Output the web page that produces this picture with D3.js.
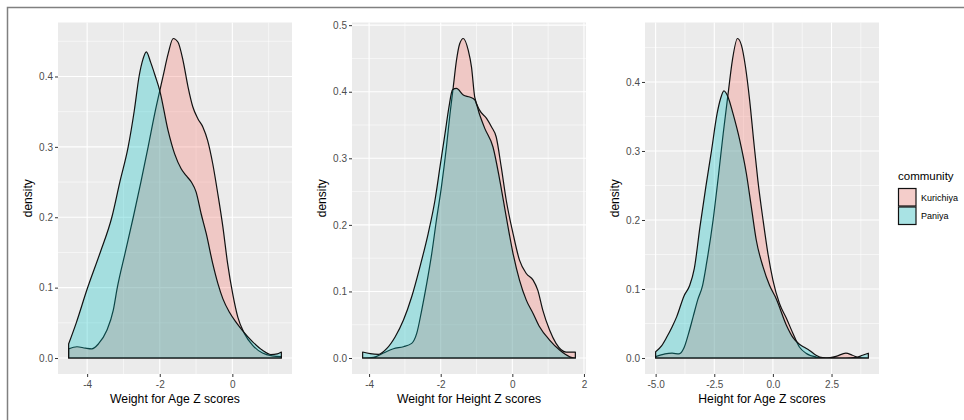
<!DOCTYPE html>
<html>
<head>
<meta charset="utf-8">
<script src="https://cdn.jsdelivr.net/npm/d3@7"></script>
<style>
  body { margin: 0; background: #fff; }
  text { font-family: "Liberation Sans", Arial, sans-serif; }
</style>
</head>
<body>
<div id="chart"></div>
<script>
// community order: Kurichiya drawn first, Paniya on top
var communities = ["Kurichiya", "Paniya"];
var fillColours = ["#F8766D", "#00BFC4"];

// Weight for Age Z scores -> [z, density]
var wazKurichiya = [[-4.51,0.013],[-4.28,0.016],[-4.05,0.014],[-3.87,0.013],[-3.69,0.020],[-3.46,0.039],[-3.28,0.068],[-3.17,0.100],[-2.96,0.148],[-2.73,0.200],[-2.52,0.250],[-2.32,0.300],[-2.14,0.347],[-1.91,0.400],[-1.77,0.432],[-1.63,0.454],[-1.50,0.449],[-1.36,0.423],[-1.22,0.385],[-1.09,0.357],[-0.95,0.340],[-0.81,0.328],[-0.68,0.309],[-0.54,0.276],[-0.40,0.233],[-0.26,0.186],[-0.13,0.134],[0.01,0.091],[0.15,0.058],[0.33,0.035],[0.56,0.018],[0.83,0.007],[1.10,0.003],[1.35,0.002]];
var wazPaniya = [[-4.51,0.020],[-4.30,0.050],[-4.00,0.098],[-3.64,0.150],[-3.32,0.200],[-3.10,0.250],[-2.87,0.300],[-2.70,0.352],[-2.57,0.400],[-2.46,0.425],[-2.37,0.435],[-2.25,0.420],[-2.12,0.400],[-2.00,0.380],[-1.77,0.323],[-1.59,0.290],[-1.41,0.269],[-1.27,0.259],[-1.13,0.250],[-1.00,0.236],[-0.86,0.205],[-0.72,0.177],[-0.54,0.134],[-0.40,0.106],[-0.26,0.084],[-0.08,0.065],[0.10,0.051],[0.28,0.039],[0.56,0.023],[0.83,0.011],[1.06,0.005],[1.24,0.006],[1.35,0.0085]];

// Weight for Height Z scores
var whzKurichiya = [[-4.18,0.0],[-3.88,0.001],[-3.60,0.0075],[-3.32,0.014],[-3.04,0.017],[-2.81,0.022],[-2.67,0.037],[-2.53,0.072],[-2.39,0.112],[-2.25,0.157],[-2.12,0.207],[-1.98,0.257],[-1.84,0.317],[-1.74,0.367],[-1.65,0.407],[-1.56,0.447],[-1.47,0.472],[-1.37,0.480],[-1.23,0.462],[-1.14,0.437],[-1.05,0.392],[-0.91,0.372],[-0.72,0.360],[-0.58,0.347],[-0.45,0.332],[-0.31,0.287],[-0.17,0.237],[0.02,0.187],[0.20,0.147],[0.39,0.127],[0.58,0.117],[0.71,0.102],[0.85,0.072],[1.04,0.042],[1.22,0.022],[1.50,0.009],[1.76,0.009]];
var whzPaniya = [[-4.18,0.009],[-3.97,0.0065],[-3.74,0.0055],[-3.51,0.014],[-3.27,0.032],[-3.04,0.057],[-2.81,0.092],[-2.58,0.137],[-2.35,0.187],[-2.16,0.237],[-2.02,0.287],[-1.88,0.337],[-1.77,0.377],[-1.67,0.403],[-1.56,0.405],[-1.37,0.395],[-1.19,0.392],[-1.05,0.388],[-0.91,0.365],[-0.77,0.345],[-0.54,0.317],[-0.35,0.267],[-0.17,0.212],[0.02,0.157],[0.20,0.117],[0.39,0.087],[0.58,0.067],[0.76,0.047],[1.04,0.027],[1.32,0.012],[1.60,0.002],[1.76,0.0]];

// Height for Age Z scores
var hazKurichiya = [[-5.0,0.002],[-4.6,0.006],[-4.3,0.007],[-4.0,0.006],[-3.8,0.014],[-3.6,0.035],[-3.4,0.060],[-3.2,0.085],[-3.0,0.105],[-2.83,0.137],[-2.55,0.200],[-2.33,0.262],[-2.12,0.325],[-1.91,0.383],[-1.73,0.431],[-1.51,0.463],[-1.34,0.453],[-1.17,0.422],[-0.99,0.373],[-0.82,0.315],[-0.64,0.257],[-0.42,0.200],[-0.21,0.151],[0.0,0.113],[0.28,0.079],[0.57,0.058],[0.85,0.036],[1.13,0.016],[1.41,0.007],[1.84,0.0015],[2.26,0.0],[2.69,0.0024],[3.11,0.0072],[3.39,0.004],[3.68,0.0005],[4.07,0.0]];
var hazPaniya = [[-5.0,0.009],[-4.74,0.018],[-4.53,0.030],[-4.30,0.045],[-4.10,0.060],[-3.79,0.090],[-3.55,0.105],[-3.35,0.130],[-3.11,0.190],[-2.86,0.248],[-2.62,0.300],[-2.38,0.354],[-2.23,0.376],[-2.09,0.387],[-1.91,0.378],[-1.70,0.354],[-1.41,0.315],[-1.13,0.267],[-0.92,0.219],[-0.71,0.171],[-0.42,0.132],[-0.14,0.105],[0.14,0.086],[0.57,0.048],[0.85,0.030],[1.13,0.020],[1.34,0.0155],[1.56,0.011],[1.84,0.004],[2.12,0.0005],[2.55,0.0],[3.10,0.0],[3.54,0.0008],[3.82,0.004],[4.07,0.007]];

// tick labels
var wazXTicks = [-4, -2, 0];
var whzXTicks = [-4, -2, 0, 2];
var hazXTicks = [-5, -2.5, 0, 2.5];
var wazYTicks = [0, 0.1, 0.2, 0.3, 0.4];
var whzYTicks = [0, 0.1, 0.2, 0.3, 0.4, 0.5];
var hazYTicks = [0, 0.1, 0.2, 0.3, 0.4];
var xTitles = ["Weight for Age Z scores", "Weight for Height Z scores", "Height for Age Z scores"];
var legendTitle = "community";

var W = 964, H = 420;
var panelTop = 22.5, panelBottom = 374, panelWidth = 234;
var panelLefts = [58, 352, 645];
var fillAlpha = 0.3;

var svg = d3.select("#chart")
    .append("svg")
    .attr("width", W)
    .attr("height", H)
    .style("display", "block");

svg.append("rect").attr("width", W).attr("height", H).attr("fill", "#fff");

// thin frame at top and left, like the cropped figure
svg.append("path")
    .attr("d", "M7.5," + H + "V7.5H" + W)
    .attr("fill", "none")
    .attr("stroke", "#808080")
    .attr("stroke-width", 1.5);

// minor gridlines halfway between majors (ggplot style)
function minorBreaks(ticks, domain) {
    var step = ticks[1] - ticks[0];
    var out = [];
    for (var i = -1; i < ticks.length; i++) {
        var v = ticks[0] + (i + 0.5) * step;
        if (v > domain[0] && v < domain[1]) out.push(v);
    }
    return out;
}

function drawPanel(idx, series, xTicks, yTicks, xFmt) {
    var left = panelLefts[idx];
    var h = panelBottom - panelTop;
    var g = svg.append("g").attr("transform", "translate(" + left + "," + panelTop + ")");

    var allX = [], maxY = 0;
    series.forEach(function (s) {
        s.forEach(function (p) { allX.push(p[0]); if (p[1] > maxY) maxY = p[1]; });
    });
    var ext = d3.extent(allX);
    var padX = (ext[1] - ext[0]) * 0.05;
    var x = d3.scaleLinear().domain([ext[0] - padX, ext[1] + padX]).range([0, panelWidth]);
    var y = d3.scaleLinear().domain([-maxY * 0.05, maxY * 1.05]).range([h, 0]);

    g.append("rect").attr("width", panelWidth).attr("height", h).attr("fill", "#EBEBEB");

    // grid
    g.selectAll(".xminor").data(minorBreaks(xTicks, x.domain())).enter().append("line")
        .attr("x1", function (d) { return x(d); }).attr("x2", function (d) { return x(d); })
        .attr("y1", 0).attr("y2", h).attr("stroke", "#fff").attr("stroke-width", 0.55);
    g.selectAll(".yminor").data(minorBreaks(yTicks, y.domain())).enter().append("line")
        .attr("y1", function (d) { return y(d); }).attr("y2", function (d) { return y(d); })
        .attr("x1", 0).attr("x2", panelWidth).attr("stroke", "#fff").attr("stroke-width", 0.55);
    g.selectAll(".xmajor").data(xTicks).enter().append("line")
        .attr("x1", function (d) { return x(d); }).attr("x2", function (d) { return x(d); })
        .attr("y1", 0).attr("y2", h).attr("stroke", "#fff").attr("stroke-width", 1.1);
    g.selectAll(".ymajor").data(yTicks).enter().append("line")
        .attr("y1", function (d) { return y(d); }).attr("y2", function (d) { return y(d); })
        .attr("x1", 0).attr("x2", panelWidth).attr("stroke", "#fff").attr("stroke-width", 1.1);

    var area = d3.area()
        .x(function (d) { return x(d[0]); })
        .y0(y(0))
        .y1(function (d) { return y(d[1]); })
        .curve(d3.curveMonotoneX);

    series.forEach(function (s, i) {
        g.append("path")
            .datum(s)
            .attr("d", area)
            .attr("fill", fillColours[i])
            .attr("fill-opacity", fillAlpha)
            .attr("stroke", "#111")
            .attr("stroke-width", 1.2)
            .attr("stroke-linejoin", "round");
    });

    // axes
    var xAxis = g.append("g")
        .attr("transform", "translate(0," + h + ")")
        .call(d3.axisBottom(x).tickValues(xTicks).tickSize(3).tickPadding(4).tickFormat(xFmt));
    var yAxis = g.append("g")
        .call(d3.axisLeft(y).tickValues(yTicks).tickSize(3).tickPadding(2).tickFormat(function (d) { return d.toFixed(1); }));
    [xAxis, yAxis].forEach(function (a) {
        a.select(".domain").remove();
        a.selectAll("line").attr("stroke", "#333");
        a.selectAll("text")
            .attr("fill", "#4D4D4D")
            .style("font-family", "'Liberation Sans', Arial, sans-serif")
            .style("font-size", "10px");
    });

    // axis titles
    svg.append("text")
        .attr("transform", "translate(" + (left - 30) + "," + ((panelTop + panelBottom) / 2) + ") rotate(-90)")
        .attr("text-anchor", "middle")
        .attr("dy", "0.35em")
        .style("font-size", "12px")
        .attr("fill", "#000")
        .text("density");
    svg.append("text")
        .attr("x", left + panelWidth / 2)
        .attr("y", 403)
        .attr("text-anchor", "middle")
        .style("font-size", "12.2px")
        .attr("fill", "#000")
        .text(xTitles[idx]);
}

drawPanel(0, [wazKurichiya, wazPaniya], wazXTicks, wazYTicks, function (d) { return String(d); });
drawPanel(1, [whzKurichiya, whzPaniya], whzXTicks, whzYTicks, function (d) { return String(d); });
drawPanel(2, [hazKurichiya, hazPaniya], hazXTicks, hazYTicks, function (d) { return d.toFixed(1); });

// legend
var legend = svg.append("g").attr("transform", "translate(898,0)");
legend.append("text")
    .attr("x", 0).attr("y", 180)
    .style("font-size", "11.5px")
    .text(legendTitle);
communities.forEach(function (c, i) {
    var ky = 188.5 + i * 18.5;
    legend.append("rect")
        .attr("x", 0.5).attr("y", ky).attr("width", 17.5).attr("height", 17.5)
        .attr("fill", "#F2F2F2");
    legend.append("rect")
        .attr("x", 0.5).attr("y", ky).attr("width", 17.5).attr("height", 17.5)
        .attr("fill", fillColours[i]).attr("fill-opacity", fillAlpha)
        .attr("stroke", "#111").attr("stroke-width", 1.2);
    legend.append("text")
        .attr("x", 23).attr("y", ky + 9)
        .attr("dy", "0.35em")
        .style("font-size", "9px")
        .text(c);
});
</script>
</body>
</html>
